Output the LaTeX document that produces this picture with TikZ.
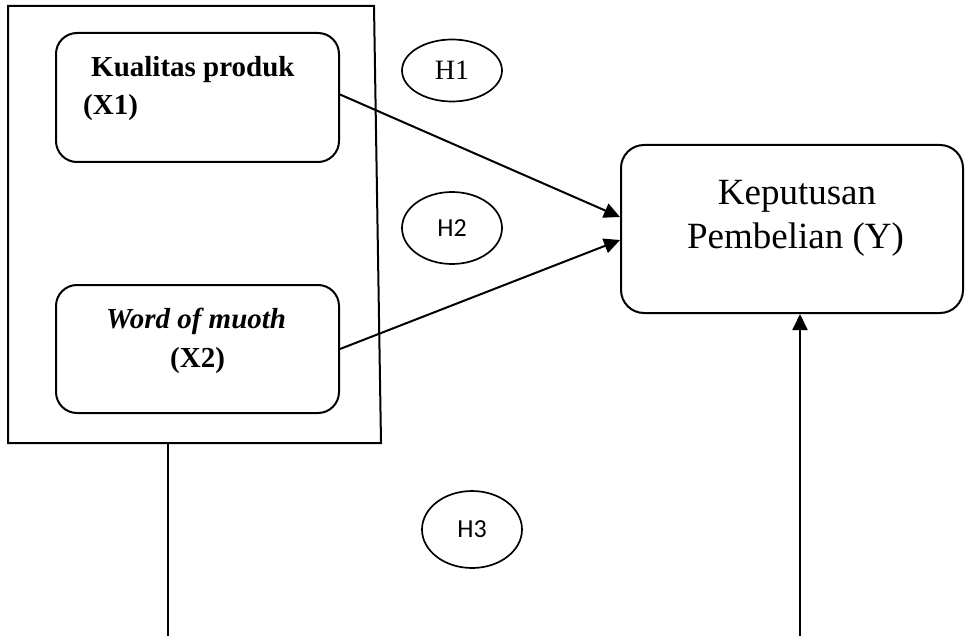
\documentclass[tikz,border=0pt]{standalone}
\usepackage{fontspec}
\setmainfont{Liberation Serif}
\newfontfamily\carlito{Carlito}
\usetikzlibrary{arrows.meta,shapes.geometric}
\tikzset{
  ln/.style={line width=2pt},
  varbox/.style={draw, ln, rounded corners=21pt, inner sep=0pt},
  hyp/.style={draw, ellipse, line width=1.7pt, inner sep=0pt},
  arr/.style={ln, -{Triangle[length=16pt,width=15pt]}},
  lbl/.style={inner sep=0pt, anchor=base west},
}
\begin{document}
\begin{tikzpicture}[x=1pt,y=-1pt]
\useasboundingbox (0,0) rectangle (965,636);
\clip (0,0) rectangle (965,636);
% outer frame
\draw[ln] (8,6) -- (374,6) -- (381,443) -- (8,443) -- cycle;
\coordinate (outerbot) at (168,443);
% variable boxes
\node[varbox, minimum width=283pt, minimum height=129pt] (X1) at (197.5,97.5) {};
\node[varbox, minimum width=283pt, minimum height=128pt] (X2) at (197.5,349) {};
\node[varbox, rounded corners=23pt, minimum width=342pt, minimum height=168pt] (Y) at (792,229) {};
% texts
\node[lbl, font=\fontsize{29}{34}\selectfont\bfseries] (t1a) at (91,77) {Kualitas produk};
\node[lbl, font=\fontsize{29}{34}\selectfont\bfseries] (t1b) at (83,115) {(X1)};
\node[lbl, font=\fontsize{29}{34}\selectfont\bfseries\itshape] (t2a) at (106,328) {Word of muoth};
\node[lbl, font=\fontsize{29}{34}\selectfont\bfseries] (t2b) at (170,367) {(X2)};
\node[lbl, anchor=base, font=\fontsize{37}{43}\selectfont] (ya) at (797,205) {Keputusan};
\node[lbl, anchor=base, font=\fontsize{37}{43}\selectfont] (yb) at (795.5,248) {Pembelian (Y)};
% hypotheses
\node[hyp, minimum width=100pt, minimum height=62pt, font=\fontsize{28}{30}\selectfont] (H1) at (452,70.5) {H1};
\node[hyp, minimum width=100pt, minimum height=72pt, font=\carlito\fontsize{26}{30}\selectfont] (H2) at (452,228) {H2};
\node[hyp, minimum width=100pt, minimum height=77pt, font=\carlito\fontsize{26}{30}\selectfont] (H3) at (472,529.5) {H3};
% connectors
\draw[arr] ([yshift=3pt]X1.east) -- ([yshift=12pt]Y.west);
\draw[arr] (X2.east) -- ([yshift=-11pt]Y.west);
\coordinate (bl) at (168,637.5);
\coordinate (br) at (800,637.5);
\draw[arr] (outerbot) -- (bl) -- (br) -- ([xshift=8pt]Y.south);
\end{tikzpicture}
\end{document}
